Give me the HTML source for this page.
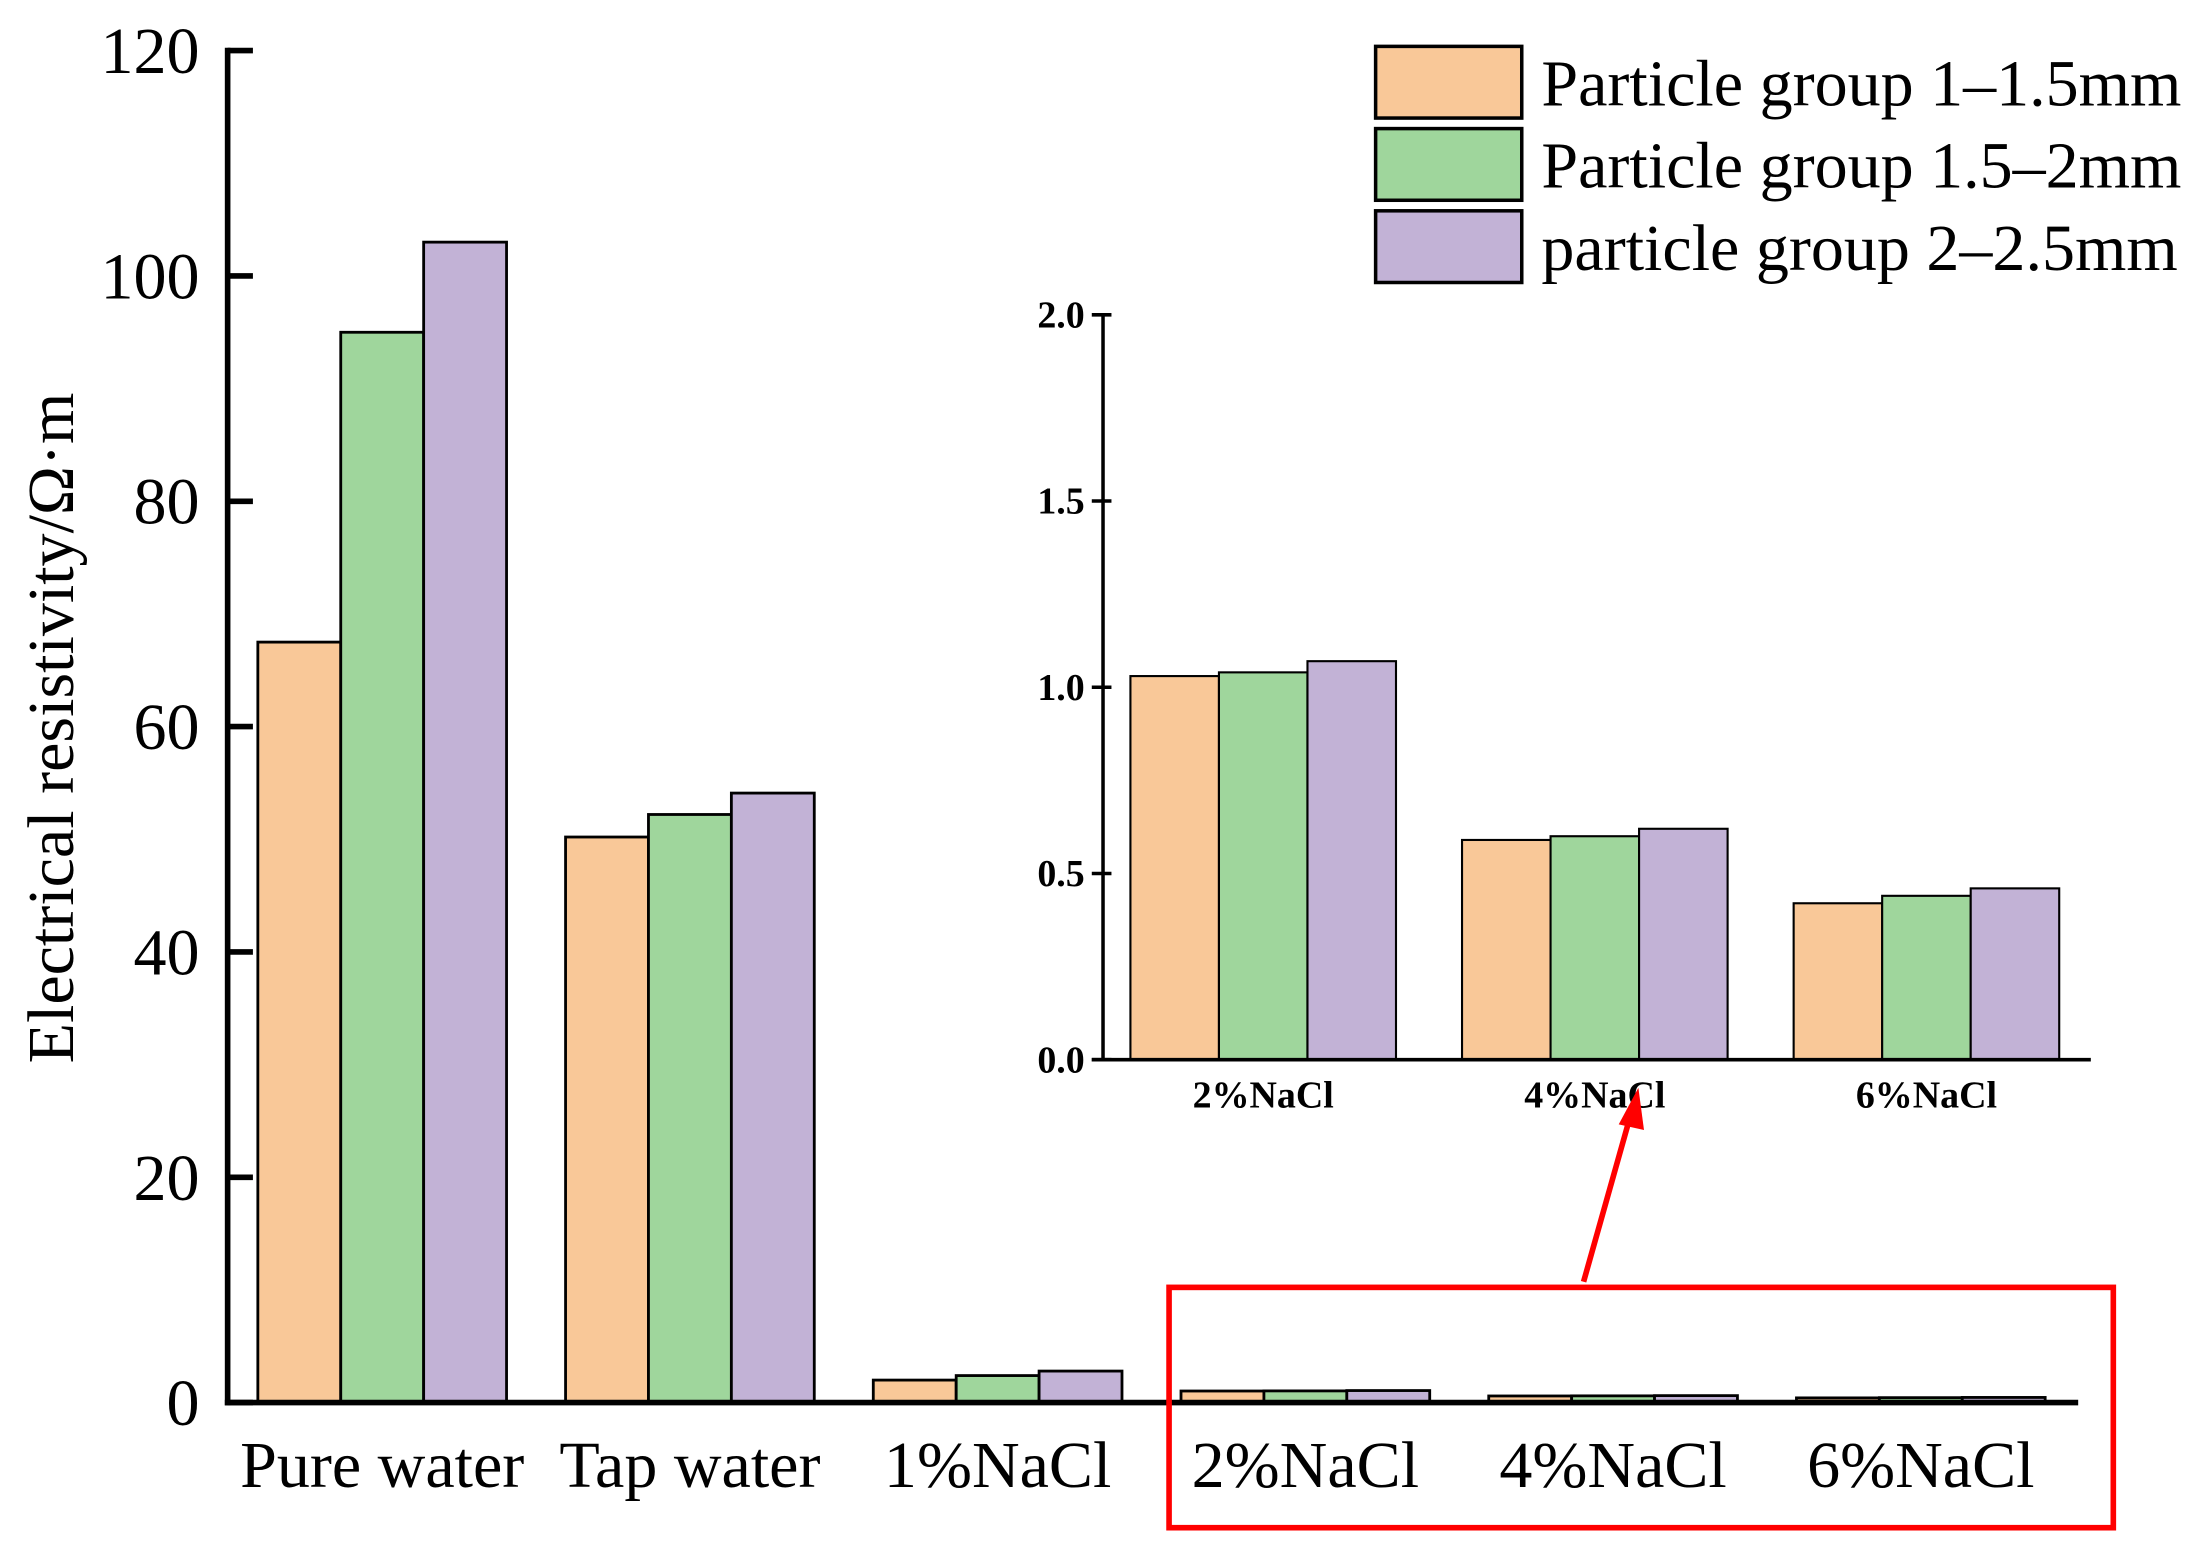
<!DOCTYPE html>
<html><head><meta charset="utf-8"><style>html,body{margin:0;padding:0;background:#fff}svg{display:block}</style></head>
<body>
<svg id="chart" width="2192" height="1553" viewBox="0 0 1560 1105" preserveAspectRatio="none" xmlns="http://www.w3.org/2000/svg" font-family="Liberation Serif, serif"></svg>
<script>
const categories = ["Pure water","Tap water","1%NaCl","2%NaCl","4%NaCl","6%NaCl"];
const seriesNames = ["Particle group 1\u20131.5mm","Particle group 1.5\u20132mm","particle group 2\u20132.5mm"];
const series1 = [67.5, 50.2, 2.0, 1.03, 0.59, 0.42];
const series2 = [95.0, 52.2, 2.4, 1.04, 0.60, 0.44];
const series3 = [103.0, 54.1, 2.8, 1.07, 0.62, 0.46];
const yTicks = [0,20,40,60,80,100,120];
const insetCategories = ["2%NaCl","4%NaCl","6%NaCl"];
const inset1 = [1.03, 0.59, 0.42];
const inset2 = [1.04, 0.60, 0.44];
const inset3 = [1.07, 0.62, 0.46];
const insetTicks = ["0.0","0.5","1.0","1.5","2.0"];
const colors = ["#f9c898","#9fd69c","#c2b2d6"];

const svg = document.getElementById('chart');
const NS = "http://www.w3.org/2000/svg";
function mk(tag, attrs, parent){const e=document.createElementNS(NS,tag);for(const k in attrs)e.setAttribute(k,attrs[k]);(parent||svg).appendChild(e);return e;}

// main axes
const y = v => 998 - v*(998-36)/120;
const gx = i => 272 + i*219;
const bw = 59;
const allSeries=[series1,series2,series3];
allSeries.forEach((s,si)=>{
  s.forEach((v,i)=>{
    const r=mk('rect',{x:gx(i)-1.5*bw+si*bw,y:y(v),width:bw,height:998-y(v),fill:colors[si],stroke:'#000','stroke-width':2});
    
    
  });
});
const ya=mk('line',{x1:162,y1:34,x2:162,y2:1000,stroke:'#000','stroke-width':4});

const xa=mk('line',{x1:160,y1:998,x2:1479,y2:998,stroke:'#000','stroke-width':4});

yTicks.forEach(t=>{
  mk('line',{x1:162,y1:y(t),x2:180,y2:y(t),stroke:'#000','stroke-width':4});
  const tx=mk('text',{x:142,y:y(t)+16,'text-anchor':'end','font-size':47});
  tx.textContent=t;
  
});
categories.forEach((c,i)=>{
  const tx=mk('text',{x:gx(i),y:1058,'text-anchor':'middle','font-size':47});
  tx.textContent=c;
  
});
const yt=mk('text',{x:52,y:518,'text-anchor':'middle','font-size':47,transform:'rotate(-90 52 518)'});
yt.textContent='Electrical resistivity/\u03a9\u00b7m';


// legend
seriesNames.forEach((n,i)=>{
  const g=mk('g',{});
  
  mk('rect',{x:979,y:33+i*58.5,width:104,height:51,fill:colors[i],stroke:'#000','stroke-width':2.5},g);
  const tx=mk('text',{x:1097,y:75+i*58.5,'font-size':47},g);tx.textContent=n;
});

// inset
const iy = v => 754 - v*(754-224)/2;
const igx = i => 899 + i*236;
const ibw = 63;
[inset1,inset2,inset3].forEach((s,si)=>{
  s.forEach((v,i)=>{
    const r=mk('rect',{x:igx(i)-1.5*ibw+si*ibw,y:iy(v),width:ibw,height:754-iy(v),fill:colors[si],stroke:'#000','stroke-width':1.5});
    
    
  });
});
const iya=mk('line',{x1:785,y1:223,x2:785,y2:755,stroke:'#000','stroke-width':2.5});

const ixa=mk('line',{x1:777,y1:754,x2:1488,y2:754,stroke:'#000','stroke-width':2.5});

insetTicks.forEach(t=>{
  const v=parseFloat(t);
  mk('line',{x1:777,y1:iy(v),x2:791,y2:iy(v),stroke:'#000','stroke-width':2.5});
  const tx=mk('text',{x:772,y:iy(v)+9,'text-anchor':'end','font-size':27,'font-weight':'bold'});
  tx.textContent=t;
  
});
insetCategories.forEach((c,i)=>{
  const tx=mk('text',{x:igx(i),y:788,'text-anchor':'middle','font-size':27,'font-weight':'bold'});
  tx.textContent=c;
  
});

// highlight box and arrow
const hb=mk('rect',{x:832,y:916,width:672,height:171,fill:'none',stroke:'#f00','stroke-width':4});

const ar=mk('line',{x1:1127,y1:912,x2:1160,y2:795,stroke:'#f00','stroke-width':4});

const ah=mk('polygon',{points:'1166,774 1152,800 1170,804',fill:'#f00'});

</script>
</body></html>
